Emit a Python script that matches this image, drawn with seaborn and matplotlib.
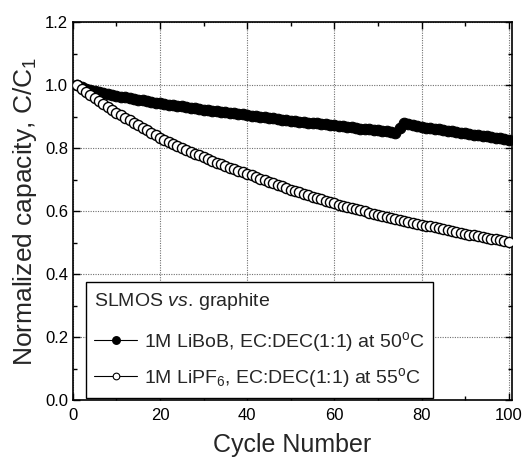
import matplotlib
matplotlib.use("Agg")
import matplotlib.pyplot as plt
from matplotlib.ticker import MultipleLocator
from matplotlib.lines import Line2D
import numpy as np
import pandas as pd
import seaborn as sns

cycles = list(range(1, 101))

libob_50C = [
    1.000, 0.994, 0.989, 0.985, 0.981, 0.978, 0.975, 0.972, 0.969, 0.966,
    0.963, 0.961, 0.958, 0.956, 0.953, 0.951, 0.949, 0.947, 0.944, 0.942,
    0.940, 0.938, 0.936, 0.934, 0.932, 0.930, 0.928, 0.926, 0.924, 0.922,
    0.920, 0.919, 0.917, 0.915, 0.914, 0.912, 0.910, 0.909, 0.907, 0.905,
    0.903, 0.902, 0.900, 0.898, 0.896, 0.894, 0.892, 0.890, 0.888, 0.886,
    0.885, 0.883, 0.882, 0.880, 0.879, 0.878, 0.876, 0.875, 0.873, 0.872,
    0.870, 0.869, 0.867, 0.866, 0.864, 0.862, 0.861, 0.859, 0.858, 0.856,
    0.854, 0.853, 0.851, 0.849, 0.865, 0.878, 0.876, 0.873, 0.870, 0.867,
    0.865, 0.863, 0.861, 0.859, 0.857, 0.855, 0.853, 0.851, 0.849, 0.847,
    0.845, 0.843, 0.841, 0.839, 0.837, 0.835, 0.833, 0.831, 0.829, 0.827,
]

lipf6_55C = [
    1.000, 0.988, 0.978, 0.967, 0.958, 0.948, 0.939, 0.930, 0.921, 0.912,
    0.904, 0.896, 0.888, 0.880, 0.872, 0.864, 0.856, 0.848, 0.841, 0.833,
    0.826, 0.819, 0.813, 0.807, 0.800, 0.794, 0.788, 0.782, 0.777, 0.771,
    0.765, 0.760, 0.754, 0.749, 0.744, 0.738, 0.733, 0.728, 0.723, 0.718,
    0.713, 0.708, 0.703, 0.698, 0.693, 0.688, 0.683, 0.678, 0.673, 0.668,
    0.663, 0.659, 0.654, 0.650, 0.646, 0.641, 0.637, 0.633, 0.628, 0.624,
    0.620, 0.617, 0.613, 0.610, 0.606, 0.602, 0.599, 0.595, 0.592, 0.588,
    0.585, 0.582, 0.579, 0.576, 0.573, 0.569, 0.566, 0.563, 0.560, 0.557,
    0.554, 0.551, 0.548, 0.545, 0.543, 0.540, 0.537, 0.534, 0.531, 0.528,
    0.525, 0.523, 0.520, 0.518, 0.515, 0.512, 0.510, 0.507, 0.505, 0.502,
]

legend_title = r"$\mathrm{SLMOS}\ \mathit{vs.}\,\mathrm{graphite}$"
series_labels = [
    r"1M LiBoB, EC:DEC(1:1) at 50$^{\mathrm{o}}$C",
    r"1M LiPF$_6$, EC:DEC(1:1) at 55$^{\mathrm{o}}$C",
]
x_label = "Cycle Number"
y_label = r"Normalized capacity, C/C$_1$"

sns.set_style("ticks")
plt.rcParams["font.family"] = ["Liberation Sans", "DejaVu Sans"]
plt.rcParams["mathtext.fontset"] = "custom"
plt.rcParams["mathtext.rm"] = "Liberation Sans"
plt.rcParams["mathtext.it"] = "Liberation Sans:italic"
plt.rcParams["mathtext.bf"] = "Liberation Sans:bold"

df1 = pd.DataFrame({"cycle": cycles, "cap": libob_50C})
df2 = pd.DataFrame({"cycle": cycles, "cap": lipf6_55C})

fig = plt.figure(figsize=(5.28, 4.57), dpi=100)
ax = fig.add_axes([0.138, 0.1247, 0.832, 0.827])

sns.lineplot(data=df1, x="cycle", y="cap", ax=ax, color="black", lw=0.8,
             marker="o", markersize=7.6, markerfacecolor="black",
             markeredgecolor="black", markeredgewidth=0.8, zorder=3)
sns.lineplot(data=df2, x="cycle", y="cap", ax=ax, color="black", lw=0.8,
             marker="o", markersize=7.3, markerfacecolor="white",
             markeredgecolor="black", markeredgewidth=1.0, zorder=4)

ax.set_xlim(0, 100.8)
ax.set_ylim(0, 1.2)
ax.xaxis.set_major_locator(MultipleLocator(20))
ax.xaxis.set_minor_locator(MultipleLocator(10))
ax.yaxis.set_major_locator(MultipleLocator(0.2))
ax.yaxis.set_minor_locator(MultipleLocator(0.1))
ax.yaxis.set_major_formatter(matplotlib.ticker.FormatStrFormatter("%.1f"))
ax.tick_params(which="both", direction="in", top=True, right=True,
               labelsize=12, width=1.0, colors="black")
ax.tick_params(which="major", length=5)
ax.tick_params(which="minor", length=3)
ax.tick_params(axis="x", pad=6)
ax.grid(True, which="major", linestyle=(0, (1, 1.2)), color="#707070", lw=0.8)
ax.set_axisbelow(True)
for s in ax.spines.values():
    s.set_linewidth(1.2)
    s.set_color("black")
    s.set_visible(True)

ax.set_xlabel(x_label, fontsize=18, labelpad=7)
ax.set_ylabel(y_label, fontsize=19, labelpad=4)

handles = [
    Line2D([], [], color="black", lw=0.8, marker="o", markersize=5.4,
           markerfacecolor="black", markeredgecolor="black"),
    Line2D([], [], color="black", lw=0.8, marker="o", markersize=4.8,
           markerfacecolor="white", markeredgecolor="black", markeredgewidth=0.8),
]
leg = ax.legend(handles, series_labels, title=legend_title, loc="lower left",
                bbox_to_anchor=(0.03, 0.006), borderaxespad=0, fontsize=14,
                title_fontsize=14, frameon=True, fancybox=False,
                edgecolor="black", framealpha=1, handlelength=2.2,
                handletextpad=0.35, labelspacing=0.58, borderpad=0.42)
leg._legend_box.align = "left"
leg._legend_box.sep = 13.5
leg.get_frame().set_linewidth(1.0)

fig.savefig("out.png", dpi=100)
